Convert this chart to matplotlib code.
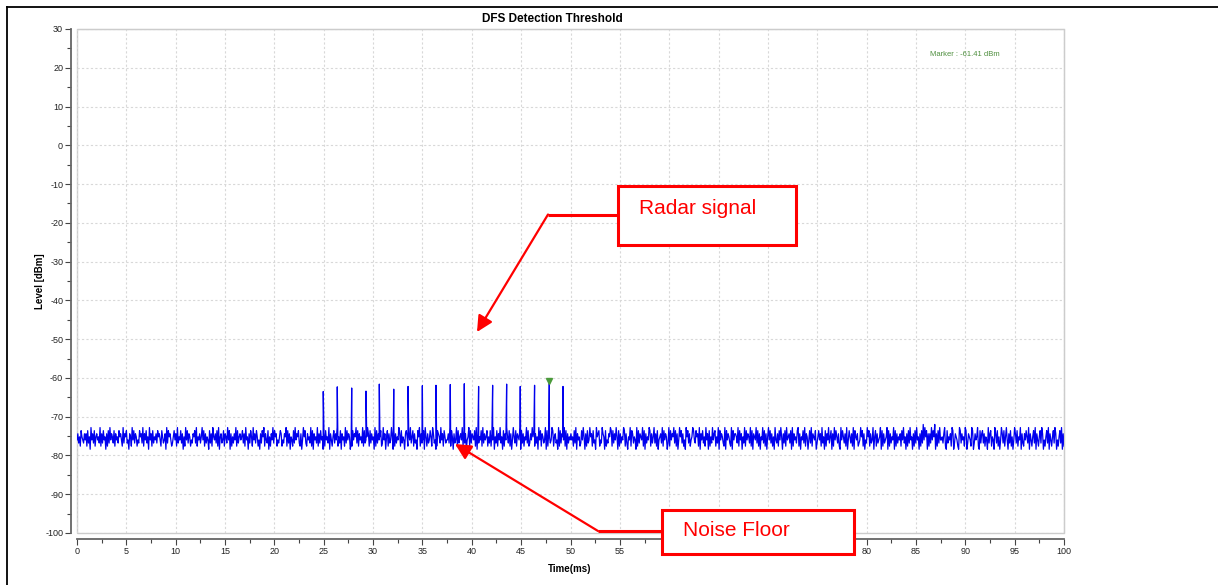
import matplotlib.pyplot as plt
import matplotlib.ticker as mticker
from matplotlib.patches import Rectangle
import numpy as np

plt.rcParams['axes.unicode_minus'] = False

# radar pulses: time (ms) and peak level (dBm)
pulse_times = [24.95, 26.37, 27.83, 29.28, 30.63, 32.09, 33.54, 34.99, 36.37,
               37.82, 39.24, 40.69, 42.11, 43.53, 44.91, 46.36, 47.85, 49.24]
pulse_levels = [-63.5, -62.3, -62.6, -63.4, -61.6, -62.9, -62.2, -62.0, -61.9,
                -61.7, -61.5, -62.2, -61.9, -61.6, -62.2, -61.9, -61.41, -62.2]

# noise floor, hand-read as coarse levels 0..9 (0 = -79.2 dBm, step 0.8 dB)
noise_digits = (
    "46352754364627351846372564538263745162738465372645"
    "37564283657341652847365243756382647351846273546375"
    "64275346183756423574628354736152847365243657382546"
    "35847263541736285463728156347265384716253648273564"
    "57362845163752846375241637582643715264837562435762"
    "43658273615427384657326148573264538271645382637451"
    "62745381642573648253716452837465132746583726453827"
    "34586273645182736457238461572634851726354862735416"
    "75264835726341758263471852634752863412765384627534"
    "46382751634827356482736145827365472816354728364572"
    "53726481537264835172648537261485372654817362548372"
    "36485726351847265348172653487256341827365482716354"
    "64527381645237485162734856273418567243865172436587"
    "27364851726354872631548276354182736548271635487263"
    "58362714563827465138274658372614857362418573624587"
    "43756281647352846172538467253817465328174653281746"
    "65382746153827465382716548372615483726158473625184"
    "36274851637284563718264537826154738265147382654713"
    "57462835172648357162847536218475362814753628175462"
    "34857261438572634815726345817263458172635481726354"
    "62748351627384516273845162739485716263847591627384"
    "45368217354628713654218736452871365428713645821736"
    "73625418367254186372514863725841637251486372548163"
    "26475381642573816425738614257381642573861425738162"
)

marker_time = 47.85
marker_level = -61.41

noise_t = np.linspace(0, 100, len(noise_digits))
noise_v = np.array([-79.2 + int(c) * 0.8 for c in noise_digits])
t_all = np.concatenate([noise_t, pulse_times])
v_all = np.concatenate([noise_v, pulse_levels])
order = np.argsort(t_all, kind='stable')
t_all = t_all[order]
v_all = v_all[order]

narrow = ['Liberation Sans Narrow', 'Liberation Sans', 'DejaVu Sans']

fig = plt.figure(figsize=(12.18, 5.85), dpi=100)
ax = fig.add_axes([77 / 1218, 1 - 533 / 585, 987 / 1218, 504 / 585])

ax.plot(t_all, v_all, color='#0000ee', lw=0.9)
ax.plot([marker_time], [marker_level + 0.6], marker='v', color='#4a9a3a',
        ms=4, ls='none')
ax.text(90, 23.5, 'Marker : -61.41 dBm', color='#4f8f3f', fontsize=5.5,
        family=narrow, ha='center', va='center')

ax.set_xlim(0, 100)
ax.set_ylim(-100, 30)
ax.xaxis.set_major_locator(mticker.MultipleLocator(5))
ax.xaxis.set_minor_locator(mticker.MultipleLocator(2.5))
ax.yaxis.set_major_locator(mticker.MultipleLocator(10))
ax.yaxis.set_minor_locator(mticker.MultipleLocator(5))
ax.grid(True, which='major', color='#d8d8d8', lw=0.8, ls=(0, (2, 2)))

for s in ['top', 'right']:
    ax.spines[s].set_color('#cccccc')
for s in ['left', 'bottom']:
    ax.spines[s].set_position(('outward', 4))
    ax.spines[s].set_color('#666666')
    ax.spines[s].set_linewidth(1.3)
ax.add_patch(Rectangle((0, 0), 1, 1, transform=ax.transAxes, fill=False,
                       ec='#cccccc', lw=1, clip_on=False))
ax.tick_params(which='major', length=4, width=0.8, color='#444444',
               labelsize=6.5, labelcolor='#222222', pad=2)
ax.tick_params(which='minor', length=3, width=0.8, color='#444444')
for lab in ax.get_xticklabels() + ax.get_yticklabels():
    lab.set_family(narrow)

fig.text(552 / 1218, 1 - 19 / 585, 'DFS Detection Threshold', ha='center',
         va='center', fontsize=8.5, fontweight='bold', family=narrow)
fig.text(40 / 1218, 1 - 281 / 585, 'Level [dBm]', rotation=90, ha='center',
         va='center', fontsize=7, fontweight='bold', family=narrow)
fig.text(570 / 1218, 1 - 569 / 585, 'Time(ms)', ha='center', va='center',
         fontsize=7, fontweight='bold', family=narrow)

# overlay in pixel coordinates for the callouts and border
ov = fig.add_axes([0, 0, 1, 1], zorder=5)
ov.set_xlim(0, 1218)
ov.set_ylim(585, 0)
ov.axis('off')
ov.patch.set_alpha(0)

ov.plot([7, 1218], [6.5, 6.5], color='black', lw=1.3)
ov.plot([7, 7], [6.5, 585], color='black', lw=1.3)

red = '#ff0000'
ov.add_patch(Rectangle((617.5, 186), 178, 59, fc='white', ec=red, lw=2.2))
ov.text(639, 208, 'Radar signal', color=red, fontsize=15, va='center',
        family=['Liberation Sans', 'DejaVu Sans'])
ov.plot([617.5, 548], [214.5, 214.5], color=red, lw=2.2, solid_capstyle='butt')
ov.annotate('', xy=(477, 332), xytext=(548, 214.5),
            arrowprops=dict(arrowstyle='-|>', color=red, lw=1.6,
                            mutation_scale=24, shrinkA=0, shrinkB=0))

ov.add_patch(Rectangle((662, 509.5), 192, 44, fc='white', ec=red, lw=2.2))
ov.text(683, 531, 'Noise Floor', color=red, fontsize=15, va='center',
        family=['Liberation Sans', 'DejaVu Sans'])
ov.plot([662, 598], [531, 531], color=red, lw=2.2, solid_capstyle='butt')
ov.annotate('', xy=(455, 444), xytext=(598, 531),
            arrowprops=dict(arrowstyle='-|>', color=red, lw=1.6,
                            mutation_scale=24, shrinkA=0, shrinkB=0))

plt.savefig('out.png', dpi=100)
